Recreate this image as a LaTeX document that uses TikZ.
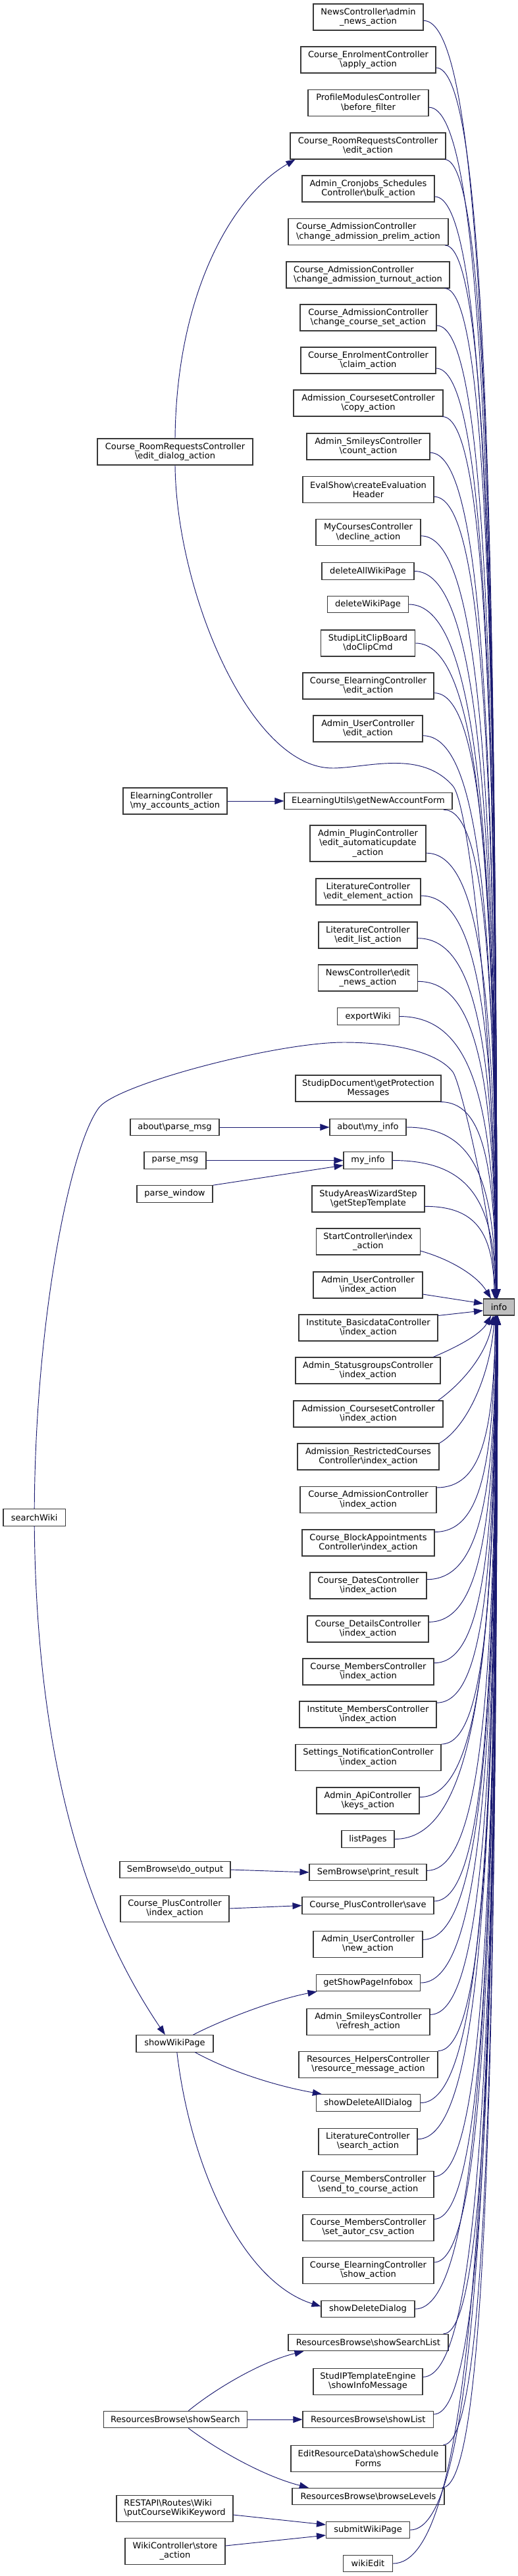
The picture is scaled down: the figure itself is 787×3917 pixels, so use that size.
\documentclass[tikz,border=0pt]{standalone}
\usepackage{fontspec}
\setmainfont{DejaVu Sans}
\usetikzlibrary{arrows.meta,calc}
\definecolor{mblue}{HTML}{191970}
\definecolor{infofill}{HTML}{BFBFBF}
\newcommand\bsl{\textbackslash}
\newcommand\mynode[7][center]{\node[box,align=#1,minimum width=#5*0.75pt,minimum height=#6*0.75pt] (#2) at (#3,#4) {#7};}
\newcommand\toinfo[2]{\draw[edge] let \p1=(#1), \p2=(#2) in (\p1) .. controls ({0.25*(\x1)+0.75*(\x2)},{\y1}) and ({\x2-2pt},{(\y1)+0.3*((\y2)-(\y1))}) .. (\p2);}
\begin{document}
\begin{tikzpicture}[x=0.75pt,y=-0.75pt,
 box/.style={draw=black!78,line width=0.8pt,fill=white,inner sep=0pt,font=\fontsize{9.75pt}{11pt}\selectfont},
 edge/.style={draw=mblue,line width=0.7pt,-{Triangle[length=10.5pt,width=7.5pt]}}]
\useasboundingbox (0,0) rectangle (787,3917);
\fill[white] (0,0) rectangle (787,3917);
% right column
\mynode{n1}{559.5}{26}{167}{40}{NewsController\bsl{}admin\\\_news\_action}
\mynode{n2}{559.5}{91}{205}{40}{Course\_EnrolmentController\\\bsl{}apply\_action}
\mynode{n3}{559.5}{156.5}{183}{40}{ProfileModulesController\\\bsl{}before\_filter}
\mynode{n4}{559}{222}{236}{40}{Course\_RoomRequestsController\\\bsl{}edit\_action}
\mynode{n5}{559.5}{287}{201}{40}{Admin\_Cronjobs\_Schedules\\Controller\bsl{}bulk\_action}
\mynode[left]{n6}{559.5}{352.5}{243}{40}{Course\_AdmissionController\\\bsl{}change\_admission\_prelim\_action}
\mynode[left]{n7}{559}{418}{248}{40}{Course\_AdmissionController\\\bsl{}change\_admission\_turnout\_action}
\mynode{n8}{559.5}{483}{207}{40}{Course\_AdmissionController\\\bsl{}change\_course\_set\_action}
\mynode{n9}{559.5}{548}{205}{40}{Course\_EnrolmentController\\\bsl{}claim\_action}
\mynode{n10}{559.5}{613}{227}{40}{Admission\_CoursesetController\\\bsl{}copy\_action}
\mynode{n11}{559.5}{679}{187}{40}{Admin\_SmileysController\\\bsl{}count\_action}
\mynode{n12}{559.5}{744.6}{199}{40}{EvalShow\bsl{}createEvaluation\\Header}
\mynode{n13}{559.5}{809.5}{159}{40}{MyCoursesController\\\bsl{}decline\_action}
\mynode{n14}{559}{868.5}{140}{25.5}{deleteAllWikiPage}
\mynode{n15}{559}{919}{123}{25.5}{deleteWikiPage}
\mynode{n16}{559}{978}{143.5}{40}{StudipLitClipBoard\\\bsl{}doClipCmd}
\mynode{n17}{559.5}{1043}{199}{40}{Course\_ElearningController\\\bsl{}edit\_action}
\mynode{n18}{559}{1108}{166}{40}{Admin\_UserController\\\bsl{}edit\_action}
\mynode{n19}{559.5}{1218}{255}{25.5}{ELearningUtils\bsl{}getNewAccountForm}
\mynode{n20}{559}{1282.5}{176}{55}{Admin\_PluginController\\\bsl{}edit\_automaticupdate\\\_action}
\mynode{n21}{559.5}{1356}{159}{40}{LiteratureController\\\bsl{}edit\_element\_action}
\mynode{n22}{559}{1422}{150}{40}{LiteratureController\\\bsl{}edit\_list\_action}
\mynode{n23}{559}{1487}{151}{40}{NewsController\bsl{}edit\\\_news\_action}
\mynode{n24}{559.3}{1545.5}{93.5}{25.5}{exportWiki}
\mynode{n25}{559.5}{1655}{221}{40}{StudipDocument\bsl{}getProtection\\Messages}
\mynode{n26}{559}{1714}{116}{25.5}{about\bsl{}my\_info}
\mynode{n27}{559}{1764.5}{74}{25.5}{my\_info}
\mynode{n28}{559.5}{1823}{171}{40}{StudyAreasWizardStep\\\bsl{}getStepTemplate}
\mynode{n29}{559.3}{1888}{157.5}{40}{StartController\bsl{}index\\\_action}
\mynode{n30}{559}{1954}{166}{40}{Admin\_UserController\\\bsl{}index\_action}
\node[box,fill=infofill,minimum width=47*0.75pt,minimum height=25*0.75pt] (info) at (758,1987.5) {info};
\mynode{n31}{559.5}{2019}{211}{40}{Institute\_BasicdataController\\\bsl{}index\_action}
\mynode{n32}{559}{2084}{220}{40}{Admin\_StatusgroupsController\\\bsl{}index\_action}
\mynode{n33}{559.5}{2150}{227}{40}{Admission\_CoursesetController\\\bsl{}index\_action}
\mynode{n34}{559.5}{2215}{215}{40}{Admission\_RestrictedCourses\\Controller\bsl{}index\_action}
\mynode{n35}{559.5}{2280.5}{207}{40}{Course\_AdmissionController\\\bsl{}index\_action}
\mynode{n36}{559.5}{2346}{201}{40}{Course\_BlockAppointments\\Controller\bsl{}index\_action}
\mynode{n37}{559.5}{2411}{177}{40}{Course\_DatesController\\\bsl{}index\_action}
\mynode{n38}{559}{2477}{184}{40}{Course\_DetailsController\\\bsl{}index\_action}
\mynode{n39}{559.5}{2542}{199}{40}{Course\_MembersController\\\bsl{}index\_action}
\mynode{n40}{559}{2607}{208}{40}{Institute\_MembersController\\\bsl{}index\_action}
\mynode{n41}{559.5}{2672.6}{221}{40}{Settings\_NotificationController\\\bsl{}index\_action}
\mynode{n42}{559}{2738}{156}{40}{Admin\_ApiController\\\bsl{}keys\_action}
\mynode{n43}{559}{2796.5}{80}{25.5}{listPages}
\mynode{n44}{559}{2847}{178}{25.5}{SemBrowse\bsl{}print\_result}
\mynode{n45}{559}{2897.5}{200}{25.5}{Course\_PlusController\bsl{}save}
\mynode{n46}{559}{2956}{166}{40}{Admin\_UserController\\\bsl{}new\_action}
\mynode{n47}{559.3}{3015}{158.5}{25.5}{getShowPageInfobox}
\mynode{n48}{559.5}{3074}{187}{40}{Admin\_SmileysController\\\bsl{}refresh\_action}
\mynode{n49}{559.5}{3139}{211}{40}{Resources\_HelpersController\\\bsl{}resource\_message\_action}
\mynode{n50}{559.3}{3197.5}{158.5}{25.5}{showDeleteAllDialog}
\mynode{n51}{559}{3256}{150}{40}{LiteratureController\\\bsl{}search\_action}
\mynode{n52}{559.5}{3321.5}{199}{40}{Course\_MembersController\\\bsl{}send\_to\_course\_action}
\mynode{n53}{559.5}{3387}{199}{40}{Course\_MembersController\\\bsl{}set\_autor\_csv\_action}
\mynode{n54}{559.5}{3452}{199}{40}{Course\_ElearningController\\\bsl{}show\_action}
\mynode{n55}{559}{3511}{142}{25.5}{showDeleteDialog}
\mynode{n56}{559.5}{3562}{243}{25.5}{ResourcesBrowse\bsl{}showSearchList}
\mynode{n57}{559}{3621}{166}{40}{StudIPTemplateEngine\\\bsl{}showInfoMessage}
\mynode{n58}{559.3}{3679}{198.6}{25.5}{ResourcesBrowse\bsl{}showList}
\mynode{n59}{559.5}{3738}{235}{40}{EditResourceData\bsl{}showSchedule\\Forms}
\mynode{n60}{559.5}{3796}{231}{25.5}{ResourcesBrowse\bsl{}browseLevels}
\mynode{n61}{559}{3847}{127}{25.5}{submitWikiPage}
\mynode{n62}{559}{3898}{75}{25.5}{wikiEdit}
% left column
\mynode{E}{266}{687}{236}{40}{Course\_RoomRequestsController\\\bsl{}edit\_dialog\_action}
\mynode[left]{EC}{266}{1218}{158}{40}{ElearningController\\\bsl{}my\_accounts\_action}
\mynode{AP}{265.5}{1714}{135}{25.5}{about\bsl{}parse\_msg}
\mynode{PM}{266}{1764.5}{94}{25.5}{parse\_msg}
\mynode{PW}{265.5}{1815.5}{115}{25.5}{parse\_window}
\mynode{srch}{52.2}{2307.3}{94.4}{25.5}{searchWiki}
\mynode{SD}{266}{2843}{168}{25.5}{SemBrowse\bsl{}do\_output}
\mynode{CP}{265.5}{2902}{165}{40}{Course\_PlusController\\\bsl{}index\_action}
\mynode{W}{265.5}{3107.3}{117}{25.5}{showWikiPage}
\mynode{SS}{266.3}{3679}{218.5}{25.5}{ResourcesBrowse\bsl{}showSearch}
\mynode[left]{R}{265.5}{3814}{177}{40}{RESTAPI\bsl{}Routes\bsl{}Wiki\\\bsl{}putCourseWikiKeyword}
\mynode{WS}{266}{3879}{152}{40}{WikiController\bsl{}store\\\_action}
% edges into info from above
\toinfo{[yshift=-4pt]n1.east}{[xshift=-2pt]info.north}
\toinfo{[yshift=-9pt]n2.east}{[xshift=-2pt]info.north}
\toinfo{[yshift=-5pt]n3.east}{[xshift=-2pt]info.north}
\toinfo{[xshift=-1.5pt]n4.south east}{[xshift=-2pt]info.north}
\toinfo{[yshift=-9pt]n5.east}{[xshift=-2pt]info.north}
\toinfo{[xshift=-4pt]n6.south east}{[xshift=-2pt]info.north}
\toinfo{[xshift=-6pt]n7.south east}{[xshift=-2pt]info.north}
\toinfo{[yshift=-9pt]n8.east}{[xshift=-2pt]info.north}
\toinfo{[yshift=-9pt]n9.east}{[xshift=-2pt]info.north}
\toinfo{[xshift=-1pt]n10.south east}{[xshift=-2pt]info.north}
\toinfo{[yshift=-7pt]n11.east}{[xshift=-2.5pt]info.north}
\toinfo{[yshift=-8pt]n12.east}{[xshift=-2.5pt]info.north}
\toinfo{[yshift=-4pt]n13.east}{[xshift=-2.5pt]info.north}
\toinfo{n14.east}{[xshift=-2.5pt]info.north}
\toinfo{n15.east}{[xshift=-2.5pt]info.north}
\toinfo{n16.east}{[xshift=-2.5pt]info.north}
\toinfo{[yshift=-8pt]n17.east}{[xshift=-2.5pt]info.north}
\toinfo{[yshift=-8pt]n18.east}{[xshift=-2.5pt]info.north}
\toinfo{[xshift=-10pt]n19.south east}{[xshift=-2.5pt]info.north}
\toinfo{[yshift=-11pt]n20.east}{[xshift=-2.5pt]info.north}
\toinfo{[yshift=-4.5pt]n21.east}{[xshift=-3pt]info.north}
\toinfo{[yshift=-3.5pt]n22.east}{[xshift=-3pt]info.north}
\toinfo{[yshift=-4pt]n23.east}{[xshift=-3pt]info.north}
\toinfo{n24.east}{[xshift=-3pt]info.north}
\toinfo{[xshift=-1pt]n25.south east}{[xshift=-3pt]info.north}
\toinfo{n26.east}{[xshift=-3.5pt]info.north}
\toinfo{n27.east}{[xshift=-3.5pt]info.north}
\toinfo{[yshift=-8.5pt]n28.east}{[xshift=-5pt]info.north}
\draw[edge] ([yshift=-10.5pt]n29.east) .. controls (685,1915) and (725,1940) .. ([xshift=-9pt]info.north);
\draw[edge] ([yshift=-10.5pt]n30.east) -- ([yshift=4pt]info.west);
% edges into info from below
\draw[edge] ([yshift=-1.5pt]n31.north east) -- ([yshift=-4pt]info.west);
\draw[edge] ([xshift=-8.5pt]n32.north east) .. controls (690,2050) and (730,2030) .. ([xshift=-9pt]info.south);
\draw[edge] ([xshift=-6pt]n33.north east) .. controls (700,2105) and (740,2060) .. ([xshift=-6.5pt]info.south);
\draw[edge] (n34.north east) .. controls (710,2170) and (745,2090) .. ([xshift=-5pt]info.south);
\toinfo{[yshift=-1.5pt]n35.north east}{[xshift=-4pt]info.south}
\toinfo{[yshift=-3pt]n36.north east}{[xshift=-4pt]info.south}
\toinfo{[yshift=7pt]n37.east}{[xshift=-3pt]info.south}
\toinfo{[yshift=8pt]n38.east}{[xshift=-3pt]info.south}
\toinfo{[yshift=10pt]n39.east}{[xshift=-3pt]info.south}
\toinfo{[yshift=-2pt]n40.north east}{[xshift=-3pt]info.south}
\toinfo{n41.north east}{[xshift=-3pt]info.south}
\toinfo{[yshift=4pt]n42.east}{[xshift=-3pt]info.south}
\toinfo{n43.east}{[xshift=-2.5pt]info.south}
\toinfo{[yshift=2pt]n44.east}{[xshift=-2.5pt]info.south}
\toinfo{[yshift=5pt]n45.east}{[xshift=-2.5pt]info.south}
\toinfo{[yshift=5pt]n46.east}{[xshift=-2pt]info.south}
\toinfo{n47.east}{[xshift=-2pt]info.south}
\toinfo{[yshift=8pt]n48.east}{[xshift=-2pt]info.south}
\toinfo{n49.north east}{[xshift=-2pt]info.south}
\toinfo{n50.east}{[xshift=-2pt]info.south}
\toinfo{[yshift=2.5pt]n51.east}{[xshift=-2pt]info.south}
\toinfo{[yshift=9pt]n52.east}{[xshift=-2pt]info.south}
\toinfo{[yshift=9.5pt]n53.east}{[xshift=-2pt]info.south}
\toinfo{[yshift=9pt]n54.east}{[xshift=-2pt]info.south}
\toinfo{n55.east}{[xshift=-2pt]info.south}
\toinfo{[xshift=-6pt]n56.north east}{[xshift=-1.5pt]info.south}
\toinfo{[yshift=5pt]n57.east}{[xshift=-1.5pt]info.south}
\toinfo{[yshift=6pt]n58.east}{[xshift=-1.5pt]info.south}
\toinfo{[xshift=-3pt]n59.north east}{[xshift=-1.5pt]info.south}
\toinfo{[xshift=-3pt]n60.north east}{[xshift=-1.5pt]info.south}
\toinfo{n61.east}{[xshift=-1.5pt]info.south}
\toinfo{n62.east}{[xshift=-1.5pt]info.south}
% long edges from the left column
\draw[edge] (E.south) .. controls (268,900) and (380,1170) .. (507,1168)
  .. controls (560,1167) and (640,1140) .. (688,1195)
  .. controls (712,1222) and (750,1550) .. ([xshift=-2pt]info.north);
\draw[edge] (srch.north) .. controls (54,2000) and (108,1739) .. (150.6,1684)
  .. controls (178,1648.5) and (420,1585) .. (522,1585)
  .. controls (600,1585) and (665,1600) .. (688,1630)
  .. controls (700,1646) and (748,1850) .. ([xshift=-4pt]info.north);
\draw[edge] (E.north) .. controls (268,450) and (350,300) .. ([xshift=6pt]n4.south west);
\draw[edge] (EC.east) -- (n19.west);
\draw[edge] (AP.east) -- (n26.west);
\draw[edge] (PM.east) -- (n27.west);
\draw[edge] (PW.north east) -- ([yshift=-5.6pt]n27.west);
\draw[edge] (SD.east) -- (n44.west);
\draw[edge] (CP.east) -- (n45.west);
\draw[edge] (srch.south) .. controls (56,2700) and (140,2930) .. ([xshift=-11pt]W.north);
\draw[edge] ([xshift=21pt]W.north) .. controls (340,3070) and (420,3040) .. ([xshift=1.5pt]n47.south west);
\draw[edge] ([xshift=23pt]W.south) .. controls (350,3150) and (420,3172) .. ([xshift=7pt]n50.north west);
\draw[edge] ([xshift=2.5pt]W.south) .. controls (290,3300) and (370,3470) .. ([yshift=3pt]n55.west);
\draw[edge] ([xshift=15pt]SS.north) .. controls (330,3630) and (400,3590) .. ([xshift=18pt]n56.south west);
\draw[edge] (SS.east) -- (n58.west);
\draw[edge] ([xshift=15pt]SS.south) .. controls (330,3725) and (400,3765) .. ([xshift=19pt]n60.north west);
\draw[edge] ([yshift=-7.5pt]R.east) -- ([yshift=6pt]n61.west);
\draw[edge] ([yshift=6pt]WS.east) -- ([yshift=-6pt]n61.west);
\end{tikzpicture}
\end{document}
